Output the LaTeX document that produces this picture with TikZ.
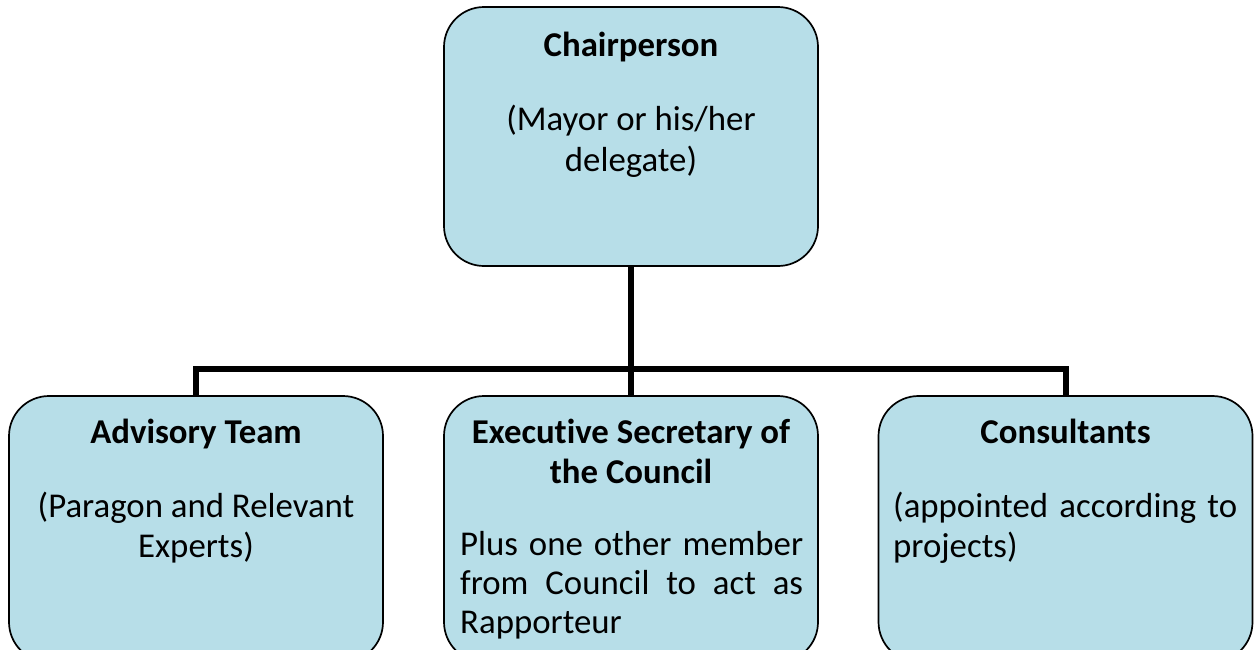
\documentclass[tikz,border=0pt]{standalone}
\usepackage{fontspec}
\setmainfont{Carlito}[Ligatures=NoCommon]
\definecolor{boxblue}{HTML}{B7DEE8}
\begin{document}
\begin{tikzpicture}[x=1pt,y=-1pt,
  orgbox/.style={draw=black, line width=1.7pt, fill=boxblue, rounded corners=40pt,
    minimum width=374pt, inner sep=0pt},
  topbox/.style={orgbox, minimum height=259pt},
  lowbox/.style={orgbox, minimum height=266pt},
  conn/.style={line width=6pt, line join=miter, line cap=butt},
  ttl/.style={anchor=base, inner sep=0pt, font=\bfseries\fontsize{34.8}{40}\selectfont},
  bdy/.style={anchor=base, inner sep=0pt, font=\fontsize{34.8}{40}\selectfont},
  bdyl/.style={anchor=base west, inner sep=0pt, font=\fontsize{34.8}{40}\selectfont}]
  \useasboundingbox (0,0) rectangle (1257,649);
  \begin{scope}
  \clip (0,0) rectangle (1257,649);

  % boxes
  \node[topbox] (chair) at (631,136.5) {};
  \node[lowbox] (adv) at (196,529) {};
  \node[lowbox] (sec) at (631,529) {};
  \node[lowbox] (cons) at (1065.5,529) {};

  % connectors
  \coordinate (bus) at (631,369);
  \draw[conn] (chair.south) -- (sec.north);
  \draw[conn] (adv.north) |- (bus) -| (cons.north);

  % Chairperson
  \node[ttl] (chairT) at (631,56) {Chairperson};
  \node[bdy] (chairA) at (631,130) {(Mayor or his/her};
  \node[bdy] (chairB) at (631,171) {delegate)};

  % Advisory Team
  \node[ttl] (advT) at (196,443) {Advisory Team};
  \node[bdy] (advA) at (196,517) {(Paragon and Relevant};
  \node[bdy] (advB) at (196,557) {Experts)};

  % Executive Secretary
  \node[ttl] (secT) at (631,443) {Executive Secretary of};
  \node[ttl] (secU) at (631,483) {the Council};
  \node[bdyl] (secA) at (460,555) {\makebox[343pt][s]{Plus one other member}};
  \node[bdyl] (secB) at (460,594) {\makebox[343pt][s]{from Council to act as}};
  \node[bdyl] (secC) at (460,633) {Rapporteur};

  % Consultants
  \node[ttl] (consT) at (1065.5,443) {Consultants};
  \node[bdyl] (consA) at (893,517) {\makebox[344pt][s]{(appointed according to}};
  \node[bdyl] (consB) at (893,557) {projects)};
  \end{scope}
\end{tikzpicture}
\end{document}
